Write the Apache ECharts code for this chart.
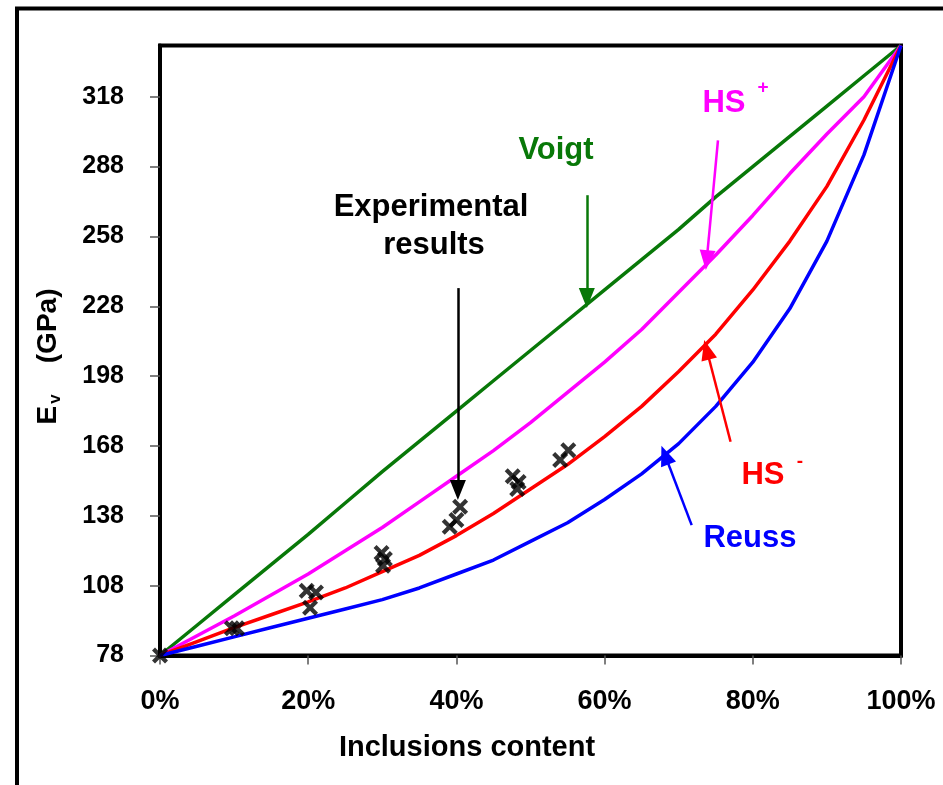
<!DOCTYPE html>
<html>
<head>
<meta charset="utf-8">
<script src="https://cdn.jsdelivr.net/npm/echarts@6/dist/echarts.min.js"></script>
<style>
html,body{margin:0;padding:0;background:#fff;}
#c{width:943px;height:785px;}
</style>
</head>
<body>
<div id="c"></div>
<script>
// ---- data ----
const fractions = [0,0.05,0.1,0.15,0.2,0.25,0.3,0.35,0.4,0.45,0.5,0.55,0.6,0.65,0.7,0.75,0.8,0.85,0.9,0.95,1];
const voigt = [78,91,104,117,130,143.5,157,170,183,196,209,222,235,248,261,275,288,301,314,327,340];
const hsPlus = [78,86.5,95,104,113,123,133,144,155,166,178,191,204,218,234,250,267,285,302,318,340];
const hsMinus = [78,84,90,95.5,101,107,114,121,129.5,139,149.5,160,172,185,200,216,235,256,279.5,308,340];
const reuss = [78,82,86,90,94,98,102,107,113,119,127,135,145,156,169,185,204,227,256,293,340];
const expX = [0,0.097,0.104,0.198,0.2105,0.2025,0.299,0.3035,0.301,0.391,0.4,0.405,0.476,0.484,0.482,0.54,0.551];
const expY = [78,89.7,89.7,105.8,105.1,98.5,122,119.5,116.5,133.3,136.2,141.9,155,152.5,149.5,162,166.2];
const yTicks = [78,108,138,168,198,228,258,288,318];
const xTicks = [0,0.2,0.4,0.6,0.8,1];

const FONT = '"Liberation Sans", Arial, Helvetica, sans-serif';
const pair = (xs, ys) => xs.map((x, i) => [x, ys[i]]);
const XMARK = 'path://M0,3 L3,0 L8,5 L13,0 L16,3 L11,8 L16,13 L13,16 L8,11 L3,16 L0,13 L5,8 Z';

function arrow(color, from, to) {
  return {
    type: 'line', data: [], silent: true,
    markLine: {
      silent: true, animation: false,
      symbol: ['none', 'triangle'], symbolSize: [16, 20],
      lineStyle: { color: color, width: 2.5, type: 'solid' },
      label: { show: false },
      data: [[{ coord: from }, { coord: to }]]
    }
  };
}

const chart = echarts.init(document.getElementById('c'), null, { renderer: 'canvas' });
const option = {
  animation: false,
  backgroundColor: '#fff',
  grid: { left: 160, top: 45.5, right: 42, bottom: 129.5, show: true, borderColor: '#000', borderWidth: 4 },
  xAxis: {
    type: 'value', min: 0, max: 1, interval: 0.2,
    axisLine: { show: true, lineStyle: { color: '#000', width: 4 } },
    axisTick: { show: true, inside: false, length: 9, lineStyle: { color: '#555', width: 1.5 } },
    axisLabel: { margin: 33, fontFamily: FONT, fontWeight: 'bold', fontSize: 27, color: '#000',
      formatter: v => xTicks.some(t => Math.abs(t - v) < 1e-9) ? Math.round(v * 100) + '%' : '' },
    splitLine: { show: false }
  },
  yAxis: {
    type: 'value', min: 78, max: 340, interval: 30,
    name: '{e|E}{s|v}{e|    (GPa)}', nameLocation: 'middle', nameGap: 96, nameRotate: 90,
    nameTextStyle: { fontFamily: FONT, fontWeight: 'bold', fontSize: 28, color: '#000', padding: [0, 12, 0, 0],
      rich: {
        e: { fontFamily: FONT, fontWeight: 'bold', fontSize: 28, color: '#000', lineHeight: 32, verticalAlign: 'middle' },
        s: { fontFamily: FONT, fontWeight: 'bold', fontSize: 17, color: '#000', lineHeight: 32, verticalAlign: 'bottom', padding: [12, 0, 0, 2] }
      } },
    axisLine: { show: true, lineStyle: { color: '#000', width: 4 } },
    axisTick: { show: true, inside: false, length: 10, lineStyle: { color: '#555', width: 1.5 } },
    axisLabel: { margin: 36, fontFamily: FONT, fontWeight: 'bold', fontSize: 25, color: '#000', showMaxLabel: false,
      formatter: v => yTicks.indexOf(Math.round(v)) >= 0 ? String(Math.round(v)) : '' },
    splitLine: { show: false }
  },
  series: [
    { name: 'Voigt', type: 'line', data: pair(fractions, voigt), showSymbol: false, lineStyle: { color: '#087808', width: 3.5 }, z: 2 },
    { name: 'HS+', type: 'line', data: pair(fractions, hsPlus), showSymbol: false, lineStyle: { color: '#ff00ff', width: 3.5 }, z: 2 },
    { name: 'HS-', type: 'line', data: pair(fractions, hsMinus), showSymbol: false, lineStyle: { color: '#ff0000', width: 3.5 }, z: 2 },
    { name: 'Reuss', type: 'line', data: pair(fractions, reuss), showSymbol: false, lineStyle: { color: '#0000ff', width: 3.5 }, z: 2 },
    { name: 'Experimental', type: 'scatter', data: pair(expX, expY), symbol: XMARK, symbolSize: 16,
      itemStyle: { color: '#000' }, z: 5 },
    arrow('#087808', [0.576, 275.7], [0.576, 231.5]),
    arrow('#000000', [0.402, 235.8], [0.402, 149.1]),
    arrow('#ff00ff', [0.753, 299.3], [0.7378, 247.8]),
    arrow('#ff0000', [0.770, 169.8], [0.7378, 209.3]),
    arrow('#0000ff', [0.7175, 134], [0.6815, 164.1])
  ],
  graphic: [
    { type: 'rect', shape: { x: 17, y: 8.5, width: 1000, height: 1000 }, style: { fill: 'none', stroke: '#000', lineWidth: 4 }, silent: true, z: 0 },
    { type: 'text', x: 467, y: 748, style: { text: 'Inclusions content', font: 'bold 29px ' + FONT, fill: '#000', textAlign: 'center', textVerticalAlign: 'middle' } },
    { type: 'text', x: 556, y: 150, style: { text: 'Voigt', font: 'bold 31px ' + FONT, fill: '#087808', textAlign: 'center', textVerticalAlign: 'middle' } },
    { type: 'text', x: 431, y: 207, style: { text: 'Experimental', font: 'bold 31px ' + FONT, fill: '#000', textAlign: 'center', textVerticalAlign: 'middle' } },
    { type: 'text', x: 434, y: 245, style: { text: 'results', font: 'bold 31px ' + FONT, fill: '#000', textAlign: 'center', textVerticalAlign: 'middle' } },
    { type: 'text', x: 724, y: 103, style: { text: 'HS', font: 'bold 31px ' + FONT, fill: '#ff00ff', textAlign: 'center', textVerticalAlign: 'middle' } },
    { type: 'text', x: 763, y: 88, style: { text: '+', font: 'bold 19px ' + FONT, fill: '#ff00ff', textAlign: 'center', textVerticalAlign: 'middle' } },
    { type: 'text', x: 763, y: 475, style: { text: 'HS', font: 'bold 31px ' + FONT, fill: '#ff0000', textAlign: 'center', textVerticalAlign: 'middle' } },
    { type: 'text', x: 800, y: 462, style: { text: '-', font: 'bold 19px ' + FONT, fill: '#ff0000', textAlign: 'center', textVerticalAlign: 'middle' } },
    { type: 'text', x: 750, y: 538, style: { text: 'Reuss', font: 'bold 31px ' + FONT, fill: '#0000ff', textAlign: 'center', textVerticalAlign: 'middle' } }
  ]
};
chart.setOption(option);
</script>
</body>
</html>
